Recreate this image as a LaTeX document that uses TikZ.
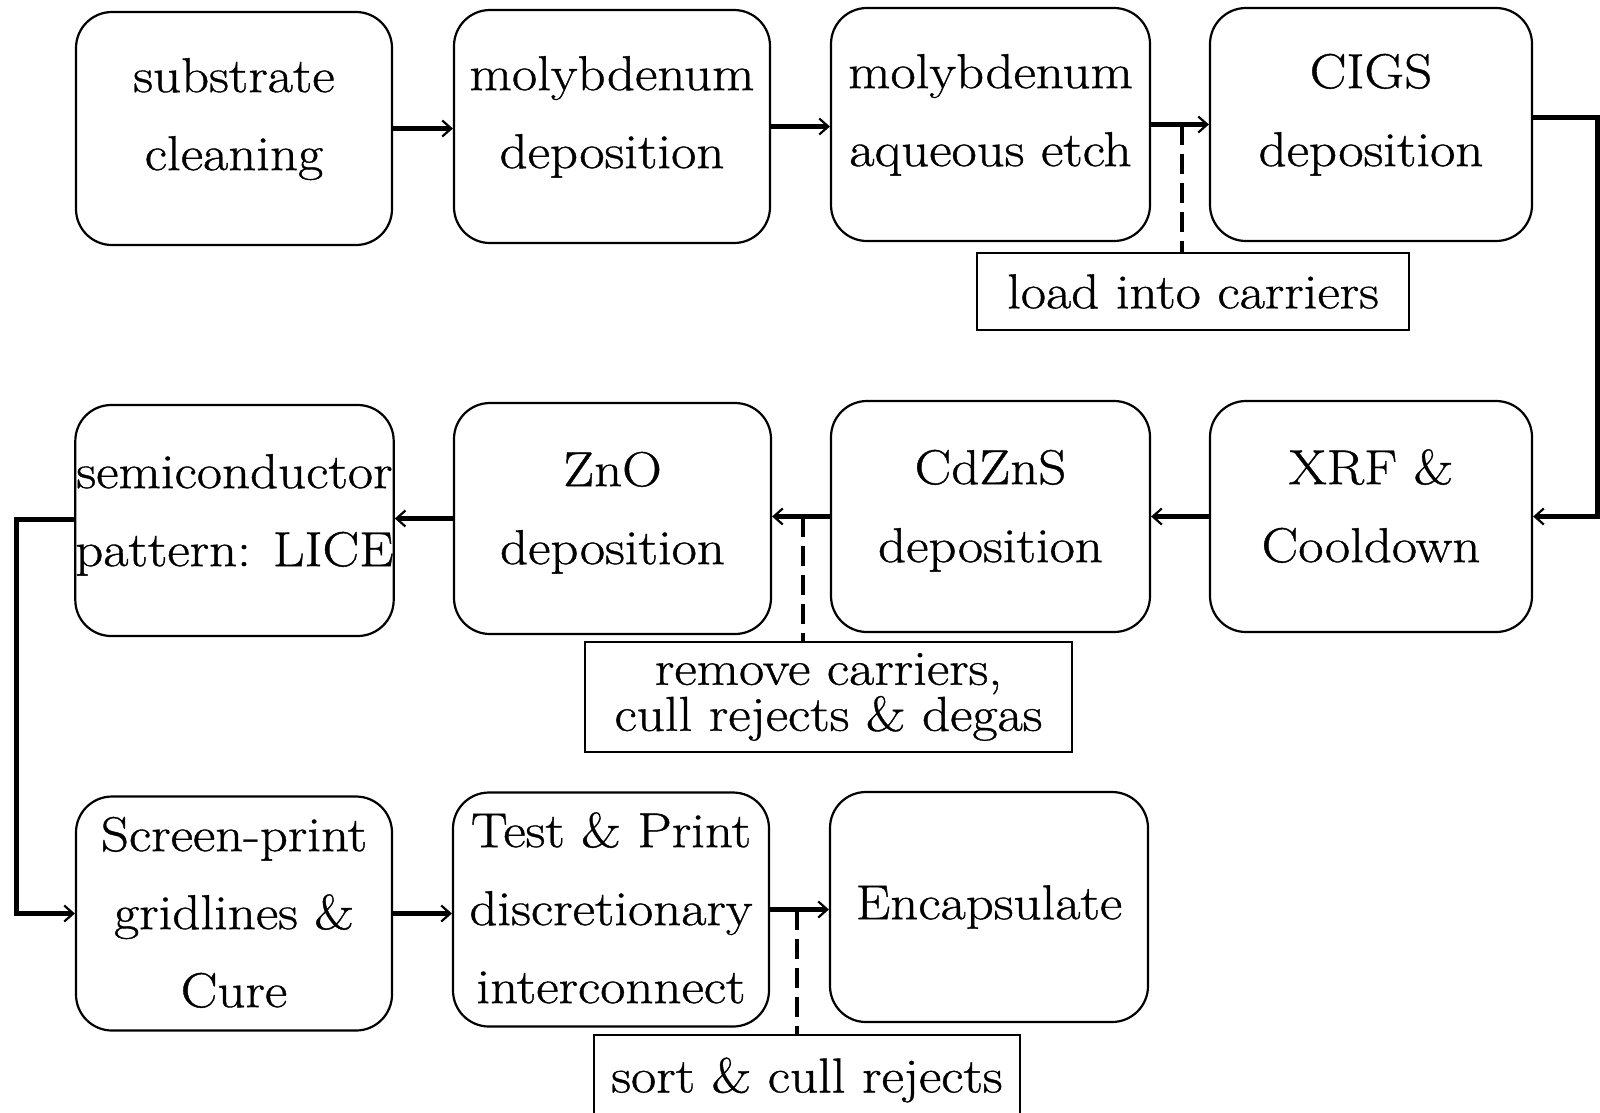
\documentclass[tikz,border=0pt]{standalone}
\usepackage{fontspec}
\setmainfont{Latin Modern Roman}[FakeStretch=1.12, FakeBold=0.8]
\usetikzlibrary{arrows.meta}
\newcommand\tb[2][0pt]{\raisebox{0pt}[\height][\dimexpr\depth+#1+#1\relax]{\begin{tabular}{@{}c@{}}#2\end{tabular}}}
\begin{document}
\begin{tikzpicture}[x=1pt,y=-1pt,
  box/.style={draw, line width=2.2pt, rounded corners=36pt, inner sep=0pt, align=center,
    font=\fontsize{49}{78}\selectfont},
  lab/.style={draw, line width=1.6pt, inner sep=0pt, align=center,
    font=\fontsize{49}{46}\selectfont},
  arr/.style={line width=5pt, -{Straight Barb[length=9pt,width=16pt,line width=2.2pt]}},
  dsh/.style={line width=3.2pt, dash pattern=on 20pt off 9pt}]
\useasboundingbox (0,0) rectangle (1600,1112);
% row 1
\node[box, minimum width=316pt, minimum height=233pt] (A) at (234,128.5) {\tb[13pt]{substrate\\cleaning}};
\node[box, minimum width=316pt, minimum height=233pt] (B) at (612,126.5) {\tb[13pt]{molybdenum\\deposition}};
\node[box, minimum width=319pt, minimum height=233pt] (C) at (990.5,124.5) {\tb[13pt]{molybdenum\\aqueous etch}};
\node[box, minimum width=322pt, minimum height=233pt] (D) at (1371,124.5) {\tb[13pt]{CIGS\\deposition}};
% row 2
\node[box, minimum width=322pt, minimum height=231pt] (E) at (1371,516.5) {\tb[9pt]{XRF \&\\Cooldown}};
\node[box, minimum width=319pt, minimum height=231pt] (F) at (990.5,516.5) {\tb[9pt]{CdZnS\\deposition}};
\node[box, minimum width=317pt, minimum height=231pt] (G) at (612.5,518.5) {\tb[9pt]{ZnO\\deposition}};
\node[box, minimum width=317pt, minimum height=231pt] (H) at (234.5,520.5) {\tb[9pt]{semiconductor\\pattern: LICE}};
% row 3
\node[box, minimum width=316pt, minimum height=229pt] (I) at (234,913.5) {\tb{Screen-print\\gridlines \&\\Cure}};
\node[box, minimum width=316pt, minimum height=231pt] (J) at (611,909.5) {\tb{Test \& Print\\discretionary\\interconnect}};
\node[box, minimum width=318pt, minimum height=230pt] (K) at (989,907) {Encapsulate};
% labels
\node[lab, minimum width=432pt, minimum height=77pt] (L1) at (1193,291.5) {load into carriers};
\node[lab, minimum width=487pt, minimum height=110pt] (L2) at (828.5,697) {remove carriers,\\cull rejects \& degas};
\node[lab, minimum width=426pt, minimum height=90pt] (L3) at (807,1080) {sort \& cull rejects};
% row 1 arrows
\draw[arr] (A.east) -- (A.east -| B.west);
\draw[arr] (B.east) -- (B.east -| C.west);
\draw[arr] (C.east) -- (C.east -| D.west);
\coordinate (r) at (1597,117);
\draw[arr] ([yshift=7.5pt]D.east) -- (r) |- (E.east);
% row 2 arrows
\draw[arr] (E.west) -- (E.west -| F.east);
\draw[arr] (F.west) -- (F.west -| G.east);
\draw[arr] (G.west) -- (G.west -| H.east);
\coordinate (l) at (16,519);
\draw[arr] ([yshift=1.5pt]H.west) -- (l) |- (I.west);
% row 3 arrows
\draw[arr] (I.west -| I.east) -- (I.east -| J.west);
\draw[arr] (J.east) -- (J.east -| K.west);
% dashed links
\coordinate (d1) at (1182,124.5);
\draw[dsh] (d1) -- (d1 |- L1.north);
\coordinate (d2) at (803,516.5);
\draw[dsh] (d2) -- (d2 |- L2.north);
\coordinate (d3) at (797,909.5);
\draw[dsh] (d3) -- (d3 |- L3.north);
\end{tikzpicture}
\end{document}
